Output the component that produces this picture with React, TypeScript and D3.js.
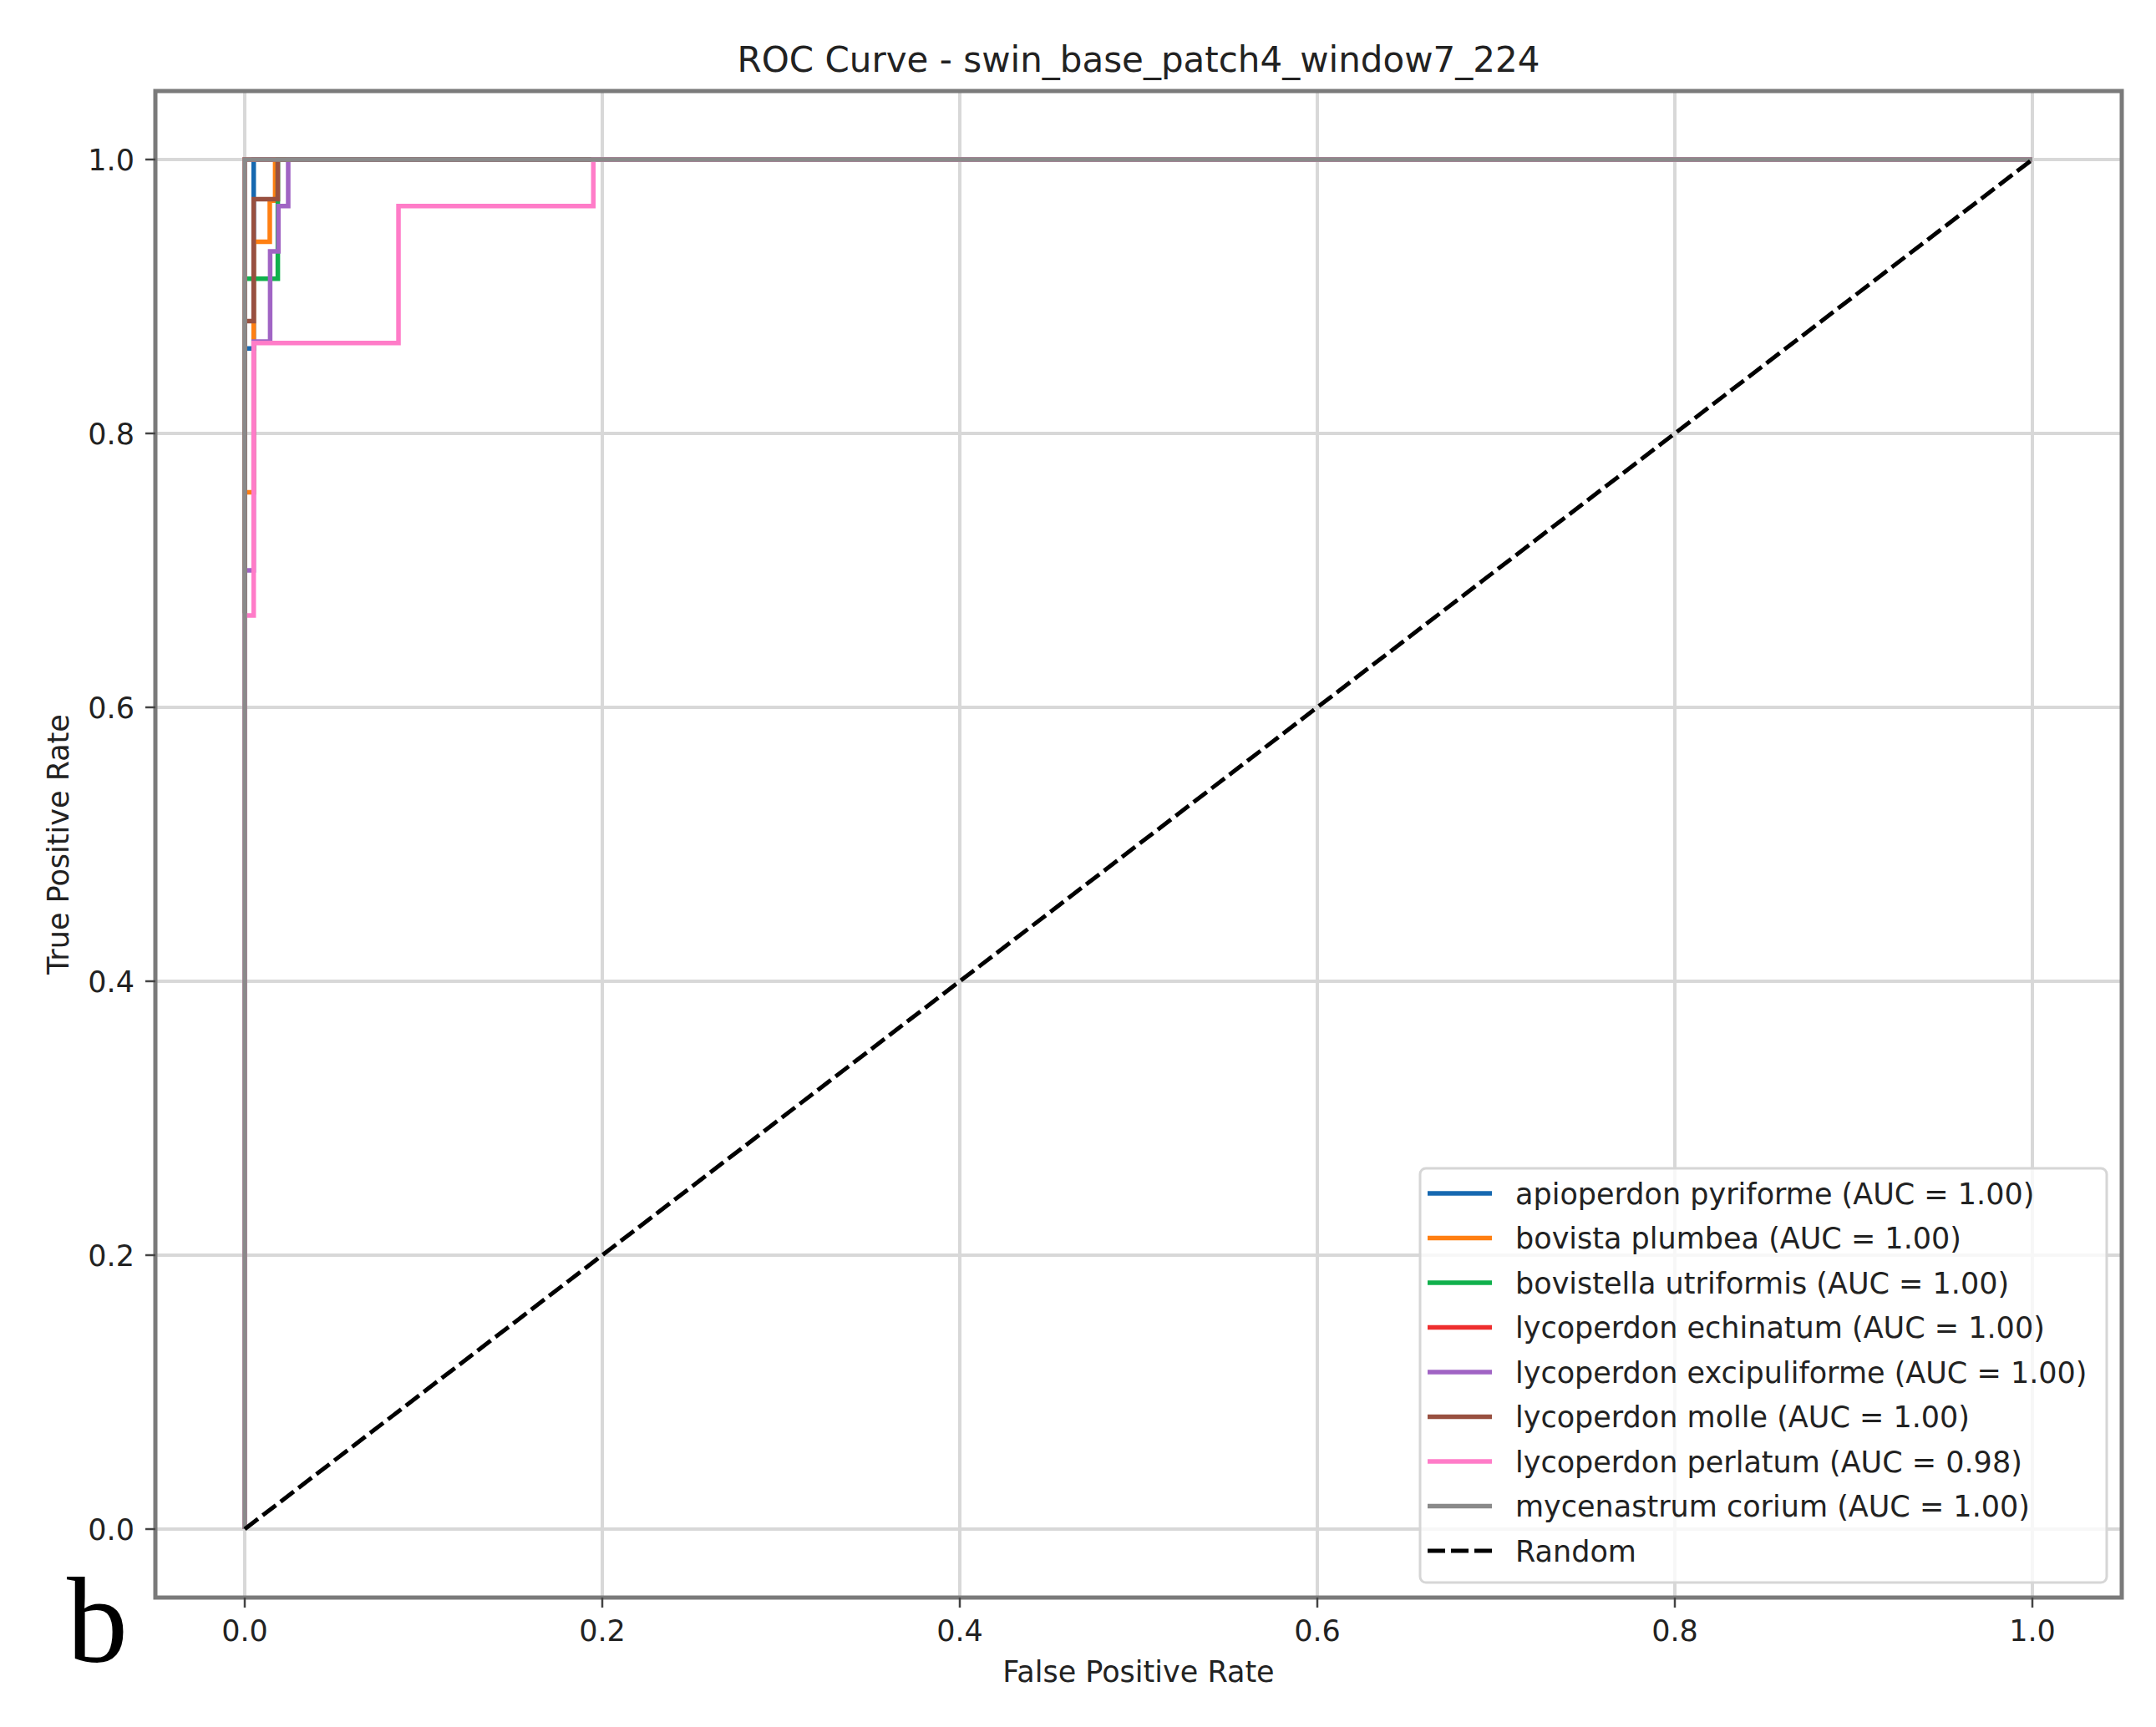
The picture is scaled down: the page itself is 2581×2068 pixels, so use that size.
import React from "react";
import * as d3 from "d3";

const classNames = [
  "apioperdon pyriforme",
  "bovista plumbea",
  "bovistella utriformis",
  "lycoperdon echinatum",
  "lycoperdon excipuliforme",
  "lycoperdon molle",
  "lycoperdon perlatum",
  "mycenastrum corium",
];
const aucValues = [1.0, 1.0, 1.0, 1.0, 1.0, 1.0, 0.98, 1.0];
const seriesColors = ["#1668b0", "#ff7f12", "#10b04c", "#ee2e2e", "#a064c4", "#985040", "#ff7cc8", "#8a8a8a"];

const apioFpr = [0, 0, 0.005, 0.005, 1];
const apioTpr = [0, 0.862, 0.862, 1, 1];
const plumbeaFpr = [0, 0, 0.005, 0.005, 0.014, 0.014, 0.017, 0.017, 1];
const plumbeaTpr = [0, 0.757, 0.757, 0.94, 0.94, 0.97, 0.97, 1, 1];
const utriFpr = [0, 0, 0.0185, 0.0185, 1];
const utriTpr = [0, 0.913, 0.913, 1, 1];
const echinFpr = [0, 0, 1];
const echinTpr = [0, 1, 1];
const excipFpr = [0, 0, 0.005, 0.005, 0.0142, 0.0142, 0.0188, 0.0188, 0.0243, 0.0243, 1];
const excipTpr = [0, 0.7, 0.7, 0.867, 0.867, 0.933, 0.933, 0.966, 0.966, 1, 1];
const molleFpr = [0, 0, 0.005, 0.005, 0.0185, 0.0185, 1];
const molleTpr = [0, 0.882, 0.882, 0.971, 0.971, 1, 1];
const perlFpr = [0, 0, 0.005, 0.005, 0.086, 0.086, 0.195, 0.195, 1];
const perlTpr = [0, 0.667, 0.667, 0.866, 0.866, 0.966, 0.966, 1, 1];
const coriumFpr = [0, 0, 1];
const coriumTpr = [0, 1, 1];

const fprList = [apioFpr, plumbeaFpr, utriFpr, echinFpr, excipFpr, molleFpr, perlFpr, coriumFpr];
const tprList = [apioTpr, plumbeaTpr, utriTpr, echinTpr, excipTpr, molleTpr, perlTpr, coriumTpr];

const randomX = [0, 1];
const randomY = [0, 1];
const tickValues = [0, 0.2, 0.4, 0.6, 0.8, 1.0];

const W = 2581;
const H = 2068;
const FL = 186, FR = 2540, FT = 109, FB = 1913;
const FONT = "'DejaVu Sans', sans-serif";

export default function App() {
  const x = d3.scaleLinear().domain([-0.05, 1.05]).range([FL, FR]);
  const y = d3.scaleLinear().domain([-0.05, 1.05]).range([FB, FT]);
  const line = d3
    .line<[number, number]>()
    .x((d) => x(d[0]))
    .y((d) => y(d[1]));

  const fs = 35;
  const legLeft = 1700, legRight = 2522, legTop = 1399, legBottom = 1895;
  const rowY0 = 1429, rowStep = 53.5;

  return (
    <svg
      width={W}
      height={H}
      style={{ position: "absolute", left: 0, top: 0, background: "#fff" }}
      fontFamily={FONT}
    >
      <rect x={0} y={0} width={W} height={H} fill="#fff" />
      {/* grid */}
      {tickValues.map((t) => (
        <line key={"gx" + t} x1={x(t)} x2={x(t)} y1={FT} y2={FB} stroke="#d8d8d8" strokeWidth={4} />
      ))}
      {tickValues.map((t) => (
        <line key={"gy" + t} x1={FL} x2={FR} y1={y(t)} y2={y(t)} stroke="#d8d8d8" strokeWidth={4} />
      ))}
      {/* curves */}
      {fprList.map((f, i) => (
        <path
          key={"c" + i}
          d={line(f.map((v, j) => [v, tprList[i][j]] as [number, number])) || ""}
          fill="none"
          stroke={seriesColors[i]}
          strokeWidth={5.5}
          strokeLinejoin="miter"
          strokeLinecap="butt"
        />
      ))}
      <path
        d={line(randomX.map((v, j) => [v, randomY[j]] as [number, number])) || ""}
        fill="none"
        stroke="#000"
        strokeWidth={5}
        strokeDasharray="20 7"
      />
      {/* frame */}
      <rect x={FL} y={FT} width={FR - FL} height={FB - FT} fill="none" stroke="#7a7a7a" strokeWidth={5} />
      {/* ticks */}
      {tickValues.map((t) => (
        <g key={"tx" + t}>
          <line x1={x(t)} x2={x(t)} y1={FB} y2={FB + 12} stroke="#444" strokeWidth={2.5} />
          <text x={x(t)} y={1952} dy="0.36em" textAnchor="middle" fontSize={fs} fill="#222">
            {t.toFixed(1)}
          </text>
        </g>
      ))}
      {tickValues.map((t) => (
        <g key={"ty" + t}>
          <line x1={FL - 12} x2={FL} y1={y(t)} y2={y(t)} stroke="#444" strokeWidth={2.5} />
          <text x={161} y={y(t)} dy="0.36em" textAnchor="end" fontSize={fs} fill="#222">
            {t.toFixed(1)}
          </text>
        </g>
      ))}
      {/* labels */}
      <text x={(FL + FR) / 2} y={2001} dy="0.36em" textAnchor="middle" fontSize={fs} fill="#222">
        False Positive Rate
      </text>
      <text
        transform={`translate(69,${(FT + FB) / 2}) rotate(-90)`}
        dy="0.36em"
        textAnchor="middle"
        fontSize={fs}
        fill="#222"
      >
        True Positive Rate
      </text>
      <text x={(FL + FR) / 2} y={71} dy="0.36em" textAnchor="middle" fontSize={42} fill="#222">
        ROC Curve - swin_base_patch4_window7_224
      </text>
      {/* legend */}
      <rect
        x={legLeft}
        y={legTop}
        width={legRight - legLeft}
        height={legBottom - legTop}
        rx={7}
        ry={7}
        fill="#fff"
        fillOpacity={0.8}
        stroke="#d6d6d6"
        strokeWidth={3}
      />
      {classNames.map((n, i) => (
        <g key={"l" + i}>
          <line
            x1={1709}
            x2={1786}
            y1={rowY0 + i * rowStep}
            y2={rowY0 + i * rowStep}
            stroke={seriesColors[i]}
            strokeWidth={5.5}
          />
          <text x={1814} y={rowY0 + i * rowStep} dy="0.36em" fontSize={fs} fill="#222">
            {`${n} (AUC = ${aucValues[i].toFixed(2)})`}
          </text>
        </g>
      ))}
      <line
        x1={1709}
        x2={1786}
        y1={rowY0 + 8 * rowStep}
        y2={rowY0 + 8 * rowStep}
        stroke="#000"
        strokeWidth={5}
        strokeDasharray="21 7"
      />
      <text x={1814} y={rowY0 + 8 * rowStep} dy="0.36em" fontSize={fs} fill="#222">
        Random
      </text>
      {/* panel letter */}
      <text x={80} y={1990} fontFamily="'Liberation Serif', serif" fontSize={146} fill="#000">
        b
      </text>
    </svg>
  );
}
